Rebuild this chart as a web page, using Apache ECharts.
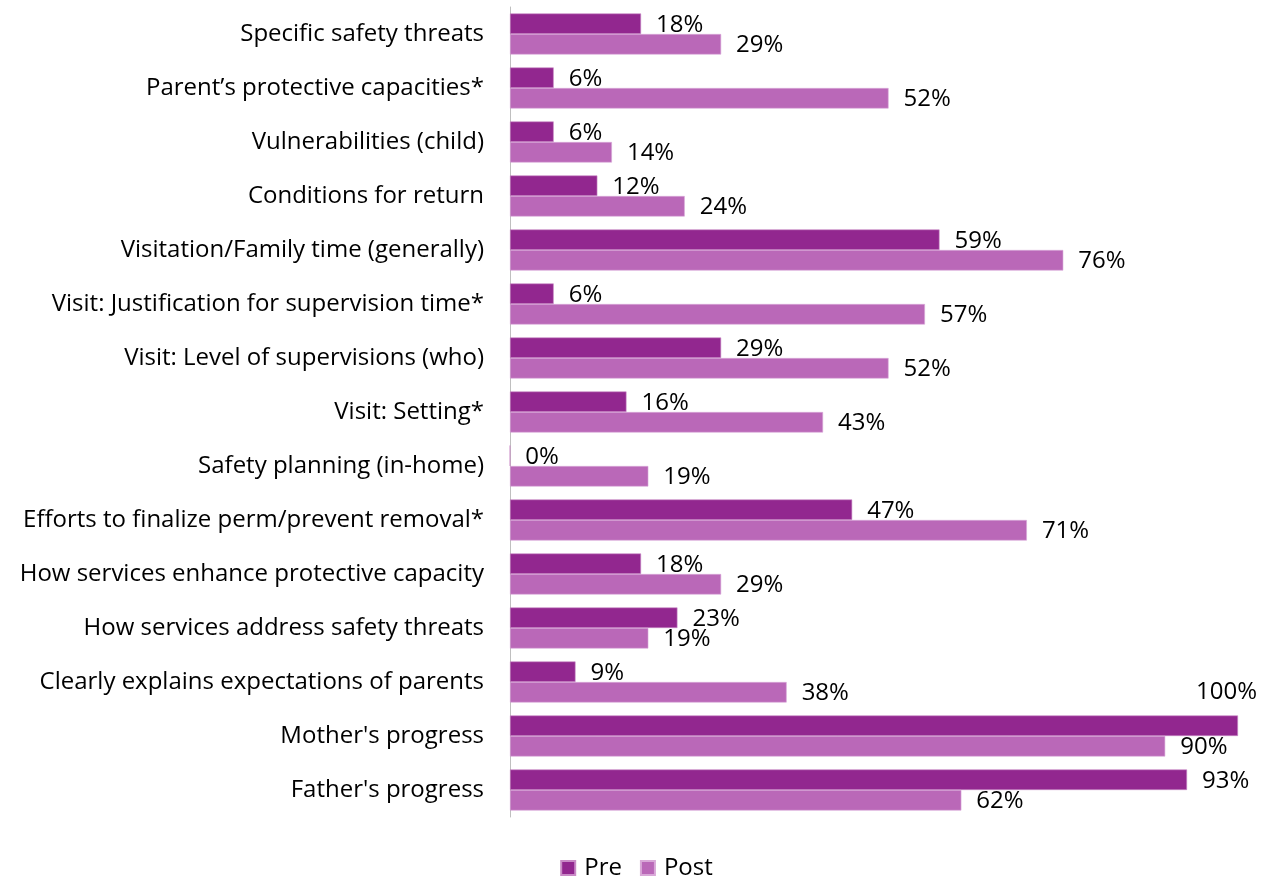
<!DOCTYPE html>
<html><head><meta charset="utf-8">
<script src="https://cdn.jsdelivr.net/npm/echarts@6/dist/echarts.min.js"></script>
<style>html,body{margin:0;padding:0;background:#fff}#c{width:1273px;height:882px}</style>
</head><body><div id="c"></div>
<script>
const categories = ["Specific safety threats","Parent\u2019s protective capacities*","Vulnerabilities (child)","Conditions for return","Visitation/Family time (generally)","Visit: Justification for supervision time*","Visit: Level of supervisions (who)","Visit: Setting*","Safety planning (in-home)","Efforts to finalize perm/prevent removal*","How services enhance protective capacity","How services address safety threats","Clearly explains expectations of parents","Mother's progress","Father's progress"];
const preValues = [18,6,6,12,59,6,29,16,0,47,18,23,9,100,93];
const postValues = [29,52,14,24,76,57,52,43,19,71,29,19,38,90,62];
const seriesNames = ["Pre","Post"];
const FONT = "Open Sans";
const FS = 24;
const chart = echarts.init(document.getElementById('c'));
const lbl = {show:true, position:'right', distance:15, color:'#000', fontSize:FS, fontFamily:FONT, formatter:'{c}%', offset:[0,1]};
chart.setOption({
  animation:false,
  textStyle:{fontFamily:FONT},
  grid:{left:510, right:35, top:7, bottom:65},
  legend:{bottom:-3, left:'center', itemWidth:14, itemHeight:14, itemGap:18, icon:'rect',
    textStyle:{fontSize:FS, color:'#000', fontFamily:FONT, padding:[0,0,0,4]}, data:seriesNames},
  xAxis:{type:'value', min:0, max:100, show:false},
  yAxis:{type:'category', inverse:true, data:categories,
    axisLine:{show:true, lineStyle:{color:'#BFBFBF', width:1}},
    axisTick:{show:false},
    axisLabel:{fontSize:FS, color:'#000', fontFamily:FONT, margin:26}},
  series:[
    {name:seriesNames[0], type:'bar', barGap:'0%', barCategoryGap:'24%',
     itemStyle:{color:'#92278F', borderColor:'#C98AC6', borderWidth:0.6},
     label:lbl,
     data:preValues.map((v,i)=> v===100 ? {value:v, label:{position:'insideTopRight', offset:[34,-50]}} : v)},
    {name:seriesNames[1], type:'bar',
     itemStyle:{color:'#BA68B8', borderColor:'#D9A8D8', borderWidth:0.6},
     label:lbl, data:postValues}
  ]
});
</script></body></html>
